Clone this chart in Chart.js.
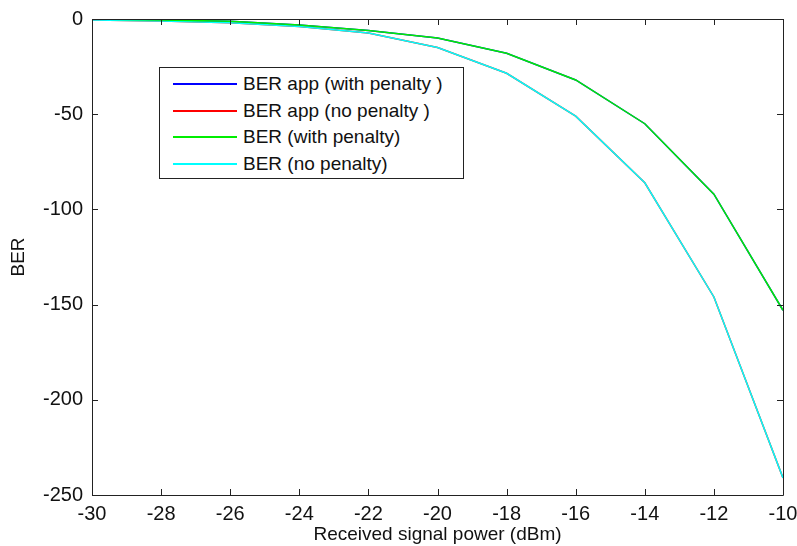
<!DOCTYPE html>
<html lang="en">
<head>
    <meta charset="UTF-8">
    <title>BER vs Received signal power</title>
    <script src="https://cdn.jsdelivr.net/npm/chart.js"></script>
    <style>
        html, body { margin: 0; padding: 0; background: #fff; }
        #wrap { position: relative; width: 797px; height: 546px; }
        #legend {
            position: absolute; left: 159px; top: 67px; width: 305px; height: 112px;
            border: 1px solid #222; background: #fff; box-sizing: border-box;
            font-family: "Liberation Sans", Arial, sans-serif; font-size: 19px; color: #111;
            padding-top: 3px;
        }
        #legend .row { display: flex; align-items: center; height: 26.5px; }
        #legend .swatch { width: 64px; height: 0; margin-left: 13px; margin-right: 6px; border-top: 2px solid; }
    </style>
</head>
<body>
<div id="wrap">
    <canvas id="berChart" width="797" height="546"></canvas>
    <div id="legend"></div>
</div>
<script>
    // received power (dBm)
    const powerDbm = [-30, -28, -26, -24, -22, -20, -18, -16, -14, -12, -10];
    const berAppWithPenalty = [0, -0.5, -1.2, -3.2, -6, -10, -18, -32, -55, -92, -153];
    const berAppNoPenalty = [-0.5, -1, -2, -4, -7.4, -15, -28.5, -51, -86, -146, -241];
    const berWithPenalty = [0, -0.5, -1.2, -3.2, -6, -10, -18, -32, -55, -92, -153];
    const berNoPenalty = [-0.5, -1, -2, -4, -7.4, -15, -28.5, -51, -86, -146, -241];
    const xTicks = [-30, -28, -26, -24, -22, -20, -18, -16, -14, -12, -10];
    const yTicks = [0, -50, -100, -150, -200, -250];

    const pts = ys => powerDbm.map((x, i) => ({ x: x, y: ys[i] }));
    const FONT = "'Liberation Sans', Arial, sans-serif";

    // matlab style box with inward ticks
    const boxTicks = {
        id: 'boxTicks',
        afterDraw(chart) {
            const { ctx, chartArea: a, scales } = chart;
            ctx.save();
            ctx.strokeStyle = '#222';
            ctx.lineWidth = 1;
            ctx.beginPath();
            ctx.rect(a.left + 0.5, a.top + 0.5, a.right - a.left, a.bottom - a.top);
            const len = 6;
            scales.x.ticks.forEach(t => {
                const px = Math.round(scales.x.getPixelForValue(t.value)) + 0.5;
                ctx.moveTo(px, a.bottom); ctx.lineTo(px, a.bottom - len);
                ctx.moveTo(px, a.top); ctx.lineTo(px, a.top + len);
            });
            scales.y.ticks.forEach(t => {
                const py = Math.round(scales.y.getPixelForValue(t.value)) + 0.5;
                ctx.moveTo(a.left, py); ctx.lineTo(a.left + len, py);
                ctx.moveTo(a.right, py); ctx.lineTo(a.right - len, py);
            });
            ctx.stroke();
            ctx.restore();
        }
    };

    const ctx = document.getElementById('berChart').getContext('2d');
    const chart = new Chart(ctx, {
        type: 'line',
        data: {
            datasets: [
                { label: 'BER app (with penalty )', data: pts(berAppWithPenalty), borderColor: '#0000ff', order: 3 },
                { label: 'BER app (no penalty )', data: pts(berAppNoPenalty), borderColor: '#ff0000', order: 4 },
                { label: 'BER (with penalty)', data: pts(berWithPenalty), borderColor: '#00ee00', order: 1 },
                { label: 'BER (no penalty)', data: pts(berNoPenalty), borderColor: '#00ffff', order: 2 }
            ]
        },
        options: {
            responsive: false,
            animation: false,
            elements: {
                point: { radius: 0 },
                line: { borderWidth: 1.5, tension: 0, fill: false }
            },
            layout: { padding: { left: 0, top: 19, right: 14, bottom: 0 } },
            plugins: {
                legend: { display: false },
                tooltip: { enabled: false }
            },
            scales: {
                x: {
                    type: 'linear',
                    min: -30, max: -10,
                    afterBuildTicks: s => { s.ticks = xTicks.map(v => ({ value: v })); },
                    afterFit: s => { s.height = 51; s.paddingLeft = 0; s.paddingRight = 0; },
                    grid: { display: false, drawTicks: false },
                    border: { display: false },
                    ticks: { color: '#111', padding: 7, maxRotation: 0, font: { family: FONT, size: 20 } },
                    title: {
                        display: true, text: 'Received signal power (dBm)', color: '#111',
                        font: { family: FONT, size: 19 }, padding: { top: 0, bottom: 0 }
                    }
                },
                y: {
                    min: -250, max: 0,
                    afterBuildTicks: s => { s.ticks = yTicks.map(v => ({ value: v })); },
                    afterFit: s => { s.width = 92; s.paddingTop = 0; s.paddingBottom = 0; },
                    grid: { display: false, drawTicks: false },
                    border: { display: false },
                    ticks: { color: '#111', padding: 9, font: { family: FONT, size: 20 } },
                    title: {
                        display: true, text: 'BER', color: '#111',
                        font: { family: FONT, size: 19 }, padding: { top: 7, bottom: 0 }
                    }
                }
            }
        },
        plugins: [boxTicks]
    });

    // legend box inside the plot
    const legend = document.getElementById('legend');
    chart.data.datasets.forEach(ds => {
        const row = document.createElement('div');
        row.className = 'row';
        const sw = document.createElement('span');
        sw.className = 'swatch';
        sw.style.borderTopColor = ds.borderColor;
        const txt = document.createElement('span');
        txt.textContent = ds.label;
        row.appendChild(sw);
        row.appendChild(txt);
        legend.appendChild(row);
    });
</script>
</body>
</html>
